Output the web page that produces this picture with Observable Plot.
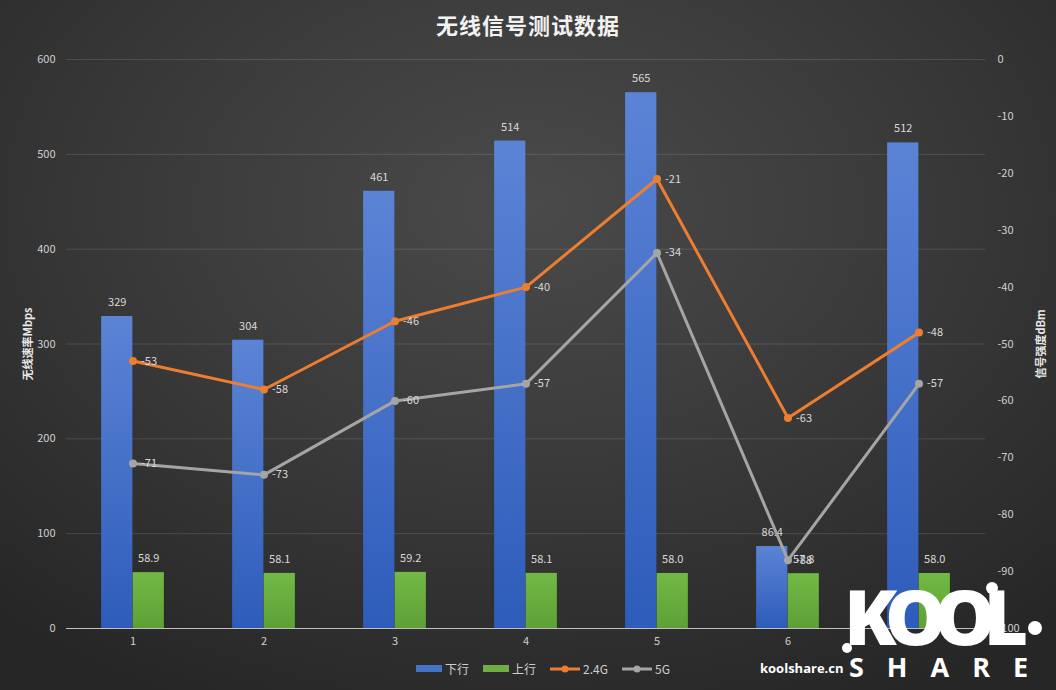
<!DOCTYPE html>
<html>
<head>
<meta charset="utf-8">
<script src="https://cdn.jsdelivr.net/npm/d3@7"></script>
<script src="https://cdn.jsdelivr.net/npm/@observablehq/plot@0.6"></script>
<style>
  html, body { margin: 0; padding: 0; }
  body { width: 1056px; height: 690px; overflow: hidden; font-family: "Noto Sans CJK SC", "Noto Sans", sans-serif; }
  #wrap {
    position: relative; width: 1056px; height: 690px;
    background: radial-gradient(ellipse 75% 80% at 50% 30%, #4a4a4a 0%, #3b3b3b 45%, #262626 100%);
  }
  #title { position: absolute; left: 0; top: 8px; width: 1056px; text-align: center; color: #f2f2f2; font-size: 22px; font-weight: bold; letter-spacing: 1px; }
  #chart { position: absolute; left: 0; top: 0; }
  .ytitle { position: absolute; color: #e8e8e8; font-size: 11px; font-weight: bold; transform: rotate(-90deg); transform-origin: center; white-space: nowrap; }
  #legend { position: absolute; top: 660px; left: 0; width: 1056px; display: flex; justify-content: center; gap: 14px; color: #cfcfcf; font-size: 12px; align-items: center; padding-left: 30px; box-sizing: border-box; }
  .lg { display: flex; align-items: center; gap: 3px; }
  .sw { width: 26px; height: 7px; }
  #logo { position: absolute; left: 840px; top: 585px; width: 210px; height: 100px; color: #fff; }
  #kool { position: absolute; left: 4px; top: -8px; font-size: 77px; font-weight: 900; font-family: "Open Sans", "DejaVu Sans", sans-serif; letter-spacing: -12px; line-height: 1; }
  #share { position: absolute; left: 9px; top: 68px; font-size: 27px; font-weight: bold; font-family: "Open Sans", "DejaVu Sans", sans-serif; letter-spacing: 23px; line-height: 1; }
  #site { position: absolute; left: 760px; top: 659px; color: #fff; font-size: 13px; font-weight: bold; font-family: "Open Sans", sans-serif; }
  .dotw { position: absolute; border-radius: 50%; background: #fff; }
</style>
</head>
<body>
<div id="wrap">
  <div id="chart"></div>
  <div id="title">无线信号测试数据</div>
  <div class="ytitle" style="left:-9px; top:336px;">无线速率Mbps</div>
  <div class="ytitle" style="left:1005px; top:336px;">信号强度dBm</div>
  <div id="legend">
    <div class="lg"><div class="sw" style="background:#4472c4"></div>下行</div>
    <div class="lg"><div class="sw" style="background:#70ad47"></div>上行</div>
    <div class="lg"><svg width="30" height="10"><line x1="0" y1="5" x2="30" y2="5" stroke="#ed7d31" stroke-width="3"/><circle cx="15" cy="5" r="3.5" fill="#ed7d31"/></svg>2.4G</div>
    <div class="lg"><svg width="30" height="10"><line x1="0" y1="5" x2="30" y2="5" stroke="#a5a5a5" stroke-width="3"/><circle cx="15" cy="5" r="3.5" fill="#a5a5a5"/></svg>5G</div>
  </div>
  <div id="site">koolshare.cn</div>
  <div id="logo">
    <div id="kool">KOOL</div>
    <div id="share">SHARE</div>
    <div class="dotw" style="left:2px; top:58px; width:10px; height:10px;"></div>
    <div class="dotw" style="left:146px; top:-3px; width:12px; height:12px;"></div>
    <div class="dotw" style="left:188px; top:36px; width:14px; height:14px;"></div>
  </div>
</div>
<script>
// ---- data ----
const categories = ["1", "2", "3", "4", "5", "6", "7"];
const downlink = [329, 304, 461, 514, 565, 86.4, 512];      // 下行 Mbps
const uplink = [58.9, 58.1, 59.2, 58.1, 58.0, 57.8, 58.0];   // 上行 Mbps
const sig24 = [-53, -58, -46, -40, -21, -63, -48];           // 2.4G dBm
const sig5 = [-71, -73, -60, -57, -34, -88, -57];            // 5G dBm
const leftTicks = [0, 100, 200, 300, 400, 500, 600];
const rightTicks = [0, -10, -20, -30, -40, -50, -60, -70, -80, -90, -100];

// map dBm (-100..0) onto the left scale (0..600)
const toLeft = d => (d + 100) * 6;

const W = 1056, H = 690;
const mL = 66, mR = 71, mT = 59, mB = 62;
const bw = (W - mL - mR) / categories.length;
const barW = bw * 0.24;

const down = categories.map((c, i) => ({c, v: downlink[i]}));
const up = categories.map((c, i) => ({c, v: uplink[i]}));
const s24 = categories.map((c, i) => ({c, v: sig24[i], y: toLeft(sig24[i])}));
const s5 = categories.map((c, i) => ({c, v: sig5[i], y: toLeft(sig5[i])}));

const defs = () => {
  const svg = d3.create("svg:defs");
  const g1 = svg.append("linearGradient").attr("id", "gBlue").attr("x1", 0).attr("y1", 0).attr("x2", 0).attr("y2", 1);
  g1.append("stop").attr("offset", "0%").attr("stop-color", "#5b84d6");
  g1.append("stop").attr("offset", "100%").attr("stop-color", "#2e5cba");
  const g2 = svg.append("linearGradient").attr("id", "gGreen").attr("x1", 0).attr("y1", 0).attr("x2", 0).attr("y2", 1);
  g2.append("stop").attr("offset", "0%").attr("stop-color", "#72b944");
  g2.append("stop").attr("offset", "100%").attr("stop-color", "#5ea036");
  return svg.node();
};

const labelStyle = {fill: "#d9d9d9", fontSize: 11};

const chart = Plot.plot({
  width: W, height: H,
  marginLeft: mL, marginRight: mR, marginTop: mT, marginBottom: mB,
  style: {background: "transparent", color: "#d0d0d0", fontSize: "11px", fontFamily: "'Noto Sans CJK SC', 'Noto Sans', sans-serif"},
  x: {domain: categories, padding: 0, label: null},
  y: {domain: [0, 600], label: null},
  marks: [
    defs,
    Plot.gridY(leftTicks.slice(1), {stroke: "#ffffff", strokeOpacity: 0.13}),
    Plot.axisY(leftTicks, {anchor: "left", tickSize: 0, tickPadding: 11, label: null}),
    Plot.axisY(rightTicks.map(toLeft), {anchor: "right", tickSize: 0, tickPadding: 12, label: null, tickFormat: d => String(Math.round(d / 6 - 100))}),
    Plot.axisX({tickSize: 0, tickPadding: 9, label: null}),
    Plot.barY(down, {x: "c", y: "v", fill: "url(#gBlue)", insetLeft: bw / 2 - barW, insetRight: bw / 2}),
    Plot.barY(up, {x: "c", y: "v", fill: "url(#gGreen)", insetLeft: bw / 2, insetRight: bw / 2 - barW}),
    Plot.ruleY([0], {stroke: "#bfbfbf", strokeWidth: 1}),
    Plot.text(down, {x: "c", y: "v", text: d => String(d.v), dx: -barW / 2, dy: -14, ...labelStyle}),
    Plot.text(up, {x: "c", y: "v", text: d => d.v.toFixed(1), dx: barW / 2, dy: -14, ...labelStyle}),
    Plot.line(s24, {x: "c", y: "y", stroke: "#ed7d31", strokeWidth: 3}),
    Plot.dot(s24, {x: "c", y: "y", fill: "#ed7d31", r: 4}),
    Plot.line(s5, {x: "c", y: "y", stroke: "#a5a5a5", strokeWidth: 3}),
    Plot.dot(s5, {x: "c", y: "y", fill: "#a5a5a5", r: 4}),
    Plot.text(s24, {x: "c", y: "y", text: d => String(d.v), dx: 8, textAnchor: "start", ...labelStyle}),
    Plot.text(s5, {x: "c", y: "y", text: d => String(d.v), dx: 8, textAnchor: "start", ...labelStyle})
  ]
});
document.getElementById("chart").appendChild(chart);
</script>
</body>
</html>
